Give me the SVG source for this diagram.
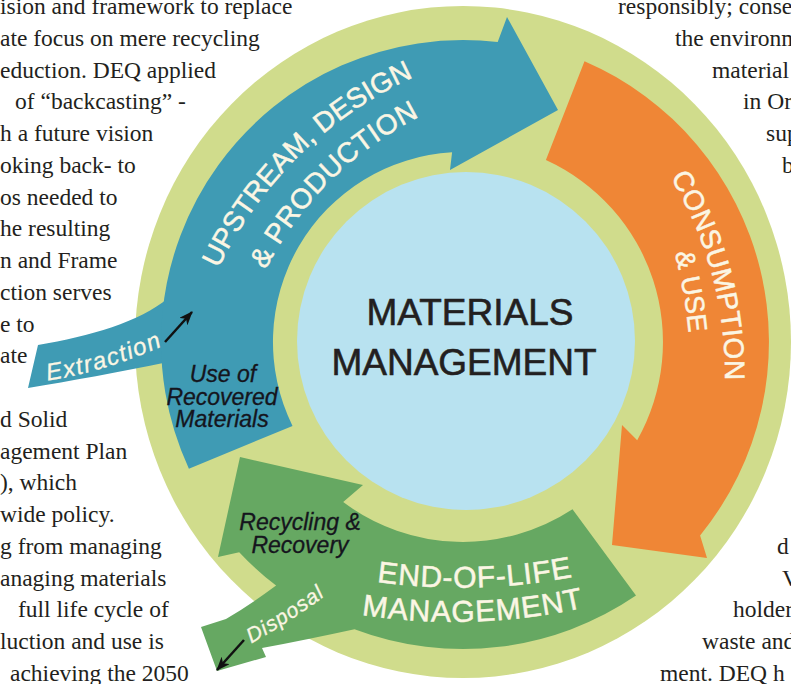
<svg xmlns="http://www.w3.org/2000/svg" width="791" height="684" viewBox="0 0 791 684">
<defs>
<style>
.body{font-family:"Liberation Serif","Times New Roman",serif;font-size:23.5px;fill:#231f20}
.lbl{font-family:"Liberation Sans",Arial,sans-serif;fill:#fbf6e4;stroke:#fbf6e4;stroke-width:0.5}
.it{font-family:"Liberation Sans",Arial,sans-serif;font-style:italic;fill:#15151d;stroke:#15151d;stroke-width:0.3;font-size:23px;text-anchor:middle}
.wit{font-family:"Liberation Sans",Arial,sans-serif;font-style:italic;fill:#fbf6e4;stroke:#fbf6e4;stroke-width:0.3}
.title{font-family:"Liberation Sans",Arial,sans-serif;fill:#231f20;stroke:#231f20;stroke-width:0.6;font-size:37px;text-anchor:middle}
.blue{fill:#3f9bb4}
.orange{fill:#ef8636}
.green{fill:#66a862}
.conn{stroke:#111;stroke-width:2.5;fill:none}
</style>
<marker id="ah" viewBox="0 0 14 11" refX="13" refY="5.5" markerWidth="14" markerHeight="11" markerUnits="userSpaceOnUse" orient="auto"><path d="M0,0 L14,5.5 L0,11 L4,5.5 Z" fill="#111"/></marker>
<path id="p1" d="M215,276 A400,400 0 0 1 421,74"/>
<path id="p2" d="M265,271 A350,350 0 0 1 421,116"/>
<path id="p3" d="M669,175 A380,380 0 0 1 725,383"/>
<path id="p4" d="M674,251 A500,500 0 0 1 689,335"/>
<path id="p5" d="M377,582 A605,605 0 0 0 573,577"/>
<path id="p6" d="M363,615 A606,606 0 0 0 583,608"/>
<path id="p7" d="M46,381 Q105,372 165,345"/>
<path id="p8" d="M252,643 Q290,622 325,596"/>
</defs>
<rect width="791" height="684" fill="#ffffff"/>

<g id="page-text" class="body">
<text x="0" y="14">ision and framework to replace</text>
<text x="0" y="45.75">ate focus on mere recycling</text>
<text x="0" y="77.5">eduction. DEQ applied</text>
<text x="15" y="109.25">of “backcasting” -</text>
<text x="0" y="141">h a future vision</text>
<text x="0" y="172.75">oking back- to</text>
<text x="0" y="204.5">os needed to</text>
<text x="0" y="236.25">he resulting</text>
<text x="0" y="268">n and Frame</text>
<text x="0" y="299.75">ction serves</text>
<text x="0" y="331.5">e to</text>
<text x="0" y="363.25">ate</text>
<text x="0" y="426.75">d Solid</text>
<text x="0" y="458.5">agement Plan</text>
<text x="0" y="490.25">), which</text>
<text x="0" y="522">wide policy.</text>
<text x="0" y="553.75">g from managing</text>
<text x="0" y="585.5">anaging materials</text>
<text x="18" y="617.25">full life cycle of</text>
<text x="0" y="649">luction and use is</text>
<text x="10" y="680.75">achieving the 2050</text>
<text x="618" y="14">responsibly; conse</text>
<text x="675" y="45.75">the environm</text>
<text x="712" y="77.5">material</text>
<text x="743" y="109.25">in Or</text>
<text x="766" y="141">sup</text>
<text x="782" y="172.75">b</text>
<text x="777" y="553.75">d</text>
<text x="782" y="585.5">V</text>
<text x="733" y="617.25">holder</text>
<text x="702" y="649">waste and</text>
<text x="660" y="680.75">ment. DEQ h</text>
</g>

<g id="ring"><ellipse cx="463" cy="342" rx="328" ry="336" fill="#d0dc8c"/></g>

<g id="materials-management">
<circle cx="466" cy="341" r="169" fill="#b8e2f0"/>
<text class="title" x="470" y="325">MATERIALS</text>
<text class="title" x="464" y="375">MANAGEMENT</text>
</g>

<g id="upstream">
<path class="blue" d="M38,345 C90,336 140,322 168,298 L220,300 L220,362 L168,362 C120,372 70,381 28,388 Z"/>
<path class="blue" d="M188.9,468.7 L292.5,425.9 A190,190 0 0 1 452.1,152.3 L450,170 L558,110 L507,17 L497.7,42 A302,302 0 0 0 188.9,468.7 Z"/>
<text class="lbl" style="font-size:28px"><textPath href="#p1" startOffset="50%" text-anchor="middle">UPSTREAM, DESIGN</textPath></text>
<text class="lbl" style="font-size:28px;letter-spacing:0.5px"><textPath href="#p2" startOffset="50%" text-anchor="middle">&amp; PRODUCTION</textPath></text>
<text class="wit" style="font-size:24px;letter-spacing:1.5px"><textPath href="#p7" startOffset="50%" text-anchor="middle">Extraction</textPath></text>
<text class="it" x="223" y="382">Use of</text>
<text class="it" x="222" y="405">Recovered</text>
<text class="it" x="222" y="427">Materials</text>
</g>

<g id="consumption">
<path class="orange" d="M584.5,61.2 A306,306 0 0 1 700.1,535.4 L707,558 L612,545 L622,425 L637.2,440.2 A200,200 0 0 0 545.9,160 Z"/>
<text class="lbl" style="font-size:28px;letter-spacing:0.3px"><textPath href="#p3" startOffset="50%" text-anchor="middle">CONSUMPTION</textPath></text>
<text class="lbl" style="font-size:27px"><textPath href="#p4" startOffset="50%" text-anchor="middle">&amp; USE</textPath></text>
</g>

<g id="end-of-life">
<path class="green" d="M572.5,509.3 L636,595.6 A307,307 0 0 1 354.5,629.2 Q305,640 262,648 L266,657 L217,671 L201,627 L226,619 Q250,605 276.1,585.6 A307,307 0 0 1 239.2,552.2 L218,557 L240,457 L363,485 L343.2,502.1 A200,200 0 0 0 572.5,509.3 Z"/>
<text class="lbl" style="font-size:30px;letter-spacing:0.8px"><textPath href="#p5" startOffset="50%" text-anchor="middle">END-OF-LIFE</textPath></text>
<text class="lbl" style="font-size:30px;letter-spacing:0.9px"><textPath href="#p6" startOffset="50%" text-anchor="middle">MANAGEMENT</textPath></text>
<text class="wit" style="font-size:21px;letter-spacing:1px"><textPath href="#p8" startOffset="50%" text-anchor="middle">Disposal</textPath></text>
<text class="it" x="300" y="530">Recycling &amp;</text>
<text class="it" x="300" y="553">Recovery</text>
</g>

<g id="connectors">
<line class="conn" x1="165" y1="342" x2="192" y2="312" marker-end="url(#ah)"/>
<line class="conn" x1="244" y1="640" x2="217" y2="670" marker-end="url(#ah)"/>
</g>
</svg>
